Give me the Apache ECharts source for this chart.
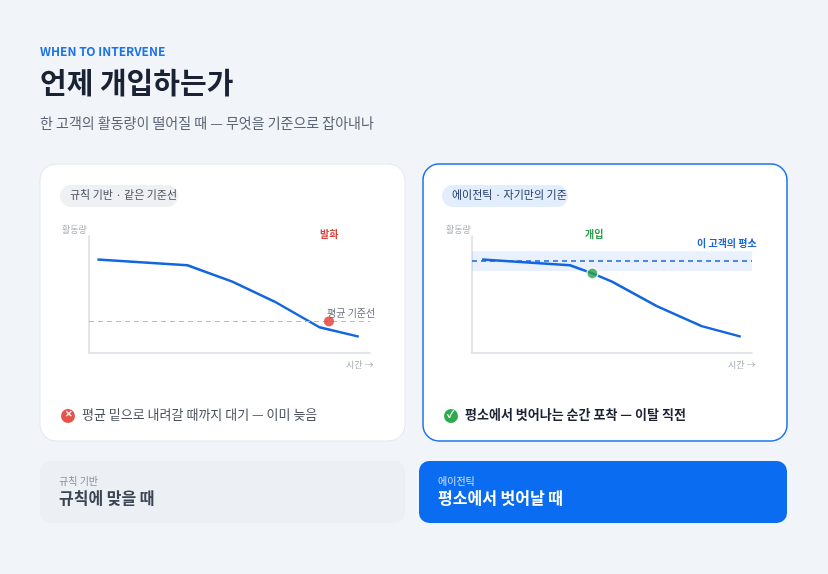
<!DOCTYPE html>
<html><head><meta charset="utf-8">
<script src="https://cdn.jsdelivr.net/npm/echarts@6/dist/echarts.min.js"></script>
<style>html,body{margin:0;padding:0;background:#f1f4f9}#c{width:828px;height:574px}</style>
</head><body><div id="c"></div>
<script>
const ruleX = [3, 35, 51, 66, 82, 96];
const ruleY = [80, 75, 61, 44, 22, 14];
const agentX = [3.6, 35, 43, 50, 66, 82, 96];
const agentY = [80, 75, 68, 61, 40, 23, 14];
const ruleBaseline = 27;
const ruleAlertX = 85.4;
const agentMean = 79;
const agentBand = [70, 87];
const agentInterveneX = 43;

const F = '"Noto Sans CJK KR","Noto Sans",sans-serif';
const chart = echarts.init(document.getElementById('c'), null, {renderer:'canvas'});
const pair = (xs, ys) => xs.map((x,i)=>[x,ys[i]]);
function axes(idx){
  return {
    x:{type:'value',gridIndex:idx,min:0,max:100,show:true,axisLine:{show:true,lineStyle:{color:'#d9dde3',width:1.5}},axisTick:{show:false},axisLabel:{show:false},splitLine:{show:false}},
    y:{type:'value',gridIndex:idx,min:0,max:100,axisLine:{show:true,lineStyle:{color:'#d9dde3',width:1.5}},axisTick:{show:false},axisLabel:{show:false},splitLine:{show:false}}
  };
}
const a0=axes(0), a1=axes(1);
const T=(x,y,text,font,fill,extra)=>Object.assign({type:'text',left:x,top:y,style:{text,font:font+' '+F,fill}},extra||{});
chart.setOption({
  animation:false,
  backgroundColor:'#f1f4f9',
  grid:[{left:89,top:236,width:281,height:117},{left:472,top:236,width:280,height:117}],
  xAxis:[a0.x,a1.x], yAxis:[a0.y,a1.y],
  graphic:[
    {type:'rect',shape:{x:40,y:164,width:365,height:277,r:16},style:{fill:'#fff',stroke:'#e3e7ed',lineWidth:1},z:-10},
    {type:'rect',shape:{x:423,y:164,width:364,height:277,r:16},style:{fill:'#fff',stroke:'#1a73e8',lineWidth:1.5},z:-10},
    {type:'rect',shape:{x:40,y:461,width:365,height:62,r:10},style:{fill:'#eceff4'},z:-10},
    {type:'rect',shape:{x:419,y:461,width:368,height:62,r:10},style:{fill:'#0a6cf0'},z:-10},
    {type:'rect',shape:{x:60,y:185,width:118,height:22,r:11},style:{fill:'#eef0f3'},z:-5},
    {type:'rect',shape:{x:442,y:185,width:126,height:22,r:11},style:{fill:'#e3eefc'},z:-5},
    T(40,45,'WHEN TO INTERVENE','bold 12px','#1a73e8',{style:{text:'WHEN TO INTERVENE',font:'bold 12px '+F,fill:'#1a73e8'}}),
    T(40,68,'언제 개입하는가','bold 29px','#1a2233'),
    T(40,116,'한 고객의 활동량이 떨어질 때 — 무엇을 기준으로 잡아내나','14px','#5b6472'),
    T(70,189,'규칙 기반 · 같은 기준선','11px','#4a5260'),
    T(452,189,'에이전틱 · 자기만의 기준','11px','#1f3a6b'),
    T(62,225,'활동량','9px','#a3a9b2'),
    T(346,360,'시간 →','9px','#a3a9b2'),
    T(446,225,'활동량','9px','#a3a9b2'),
    T(728,360,'시간 →','9px','#a3a9b2'),
    T(320,229,'발화','bold 10px','#d9443f'),
    T(327,308,'평균 기준선','10px','#6b7280'),
    T(585,229,'개입','bold 10px','#2a9d4a'),
    T(697,238,'이 고객의 평소','bold 10px','#1a66d9'),
    {type:'circle',shape:{cx:68,cy:416,r:7},style:{fill:'#e5534b'}},
    T(64.5,409,'✕','bold 9px','#fff'),
    T(82,408,'평균 밑으로 내려갈 때까지 대기 — 이미 늦음','13px','#4a5260'),
    {type:'circle',shape:{cx:451,cy:416,r:7},style:{fill:'#2eaa4f'}},
    T(447,409,'✓','bold 10px','#fff'),
    T(465,408,'평소에서 벗어나는 순간 포착 — 이탈 직전','bold 13px','#1a2233'),
    T(59,476,'규칙 기반','10px','#8a919b'),
    T(59,490,'규칙에 맞을 때','bold 16px','#3b4452'),
    T(438,476,'에이전틱','10px','#cfe0ff'),
    T(438,490,'평소에서 벗어날 때','bold 16px','#ffffff')
  ],
  series:[
    {type:'line',xAxisIndex:0,yAxisIndex:0,data:pair(ruleX,ruleY),symbol:'none',lineStyle:{color:'#1266e0',width:2.5},
     markLine:{silent:true,symbol:'none',label:{show:false},data:[
       {yAxis:ruleBaseline,lineStyle:{color:'#b5bac2',type:[5,4],width:1.2}},
       [{coord:[ruleAlertX,0]},{coord:[ruleAlertX,104]}]
     ],lineStyle:{color:'#e5534b',type:[3,3],width:1.2}}},
    {type:'scatter',xAxisIndex:0,yAxisIndex:0,data:[[ruleAlertX,ruleBaseline]],symbolSize:10,itemStyle:{color:'#e5392f'},z:5},
    {type:'line',xAxisIndex:1,yAxisIndex:1,data:pair(agentX,agentY),symbol:'none',lineStyle:{color:'#1266e0',width:2.5},
     markArea:{silent:true,itemStyle:{color:'rgba(26,115,232,0.10)'},data:[[{yAxis:agentBand[1],x:472},{yAxis:agentBand[0],x:752}]]},
     markLine:{silent:true,symbol:'none',label:{show:false},data:[
       {yAxis:agentMean,lineStyle:{color:'#1a66d9',type:[5,4],width:1.6}},
       [{coord:[agentInterveneX,0]},{coord:[agentInterveneX,104]}]
     ],lineStyle:{color:'#7dcc8e',type:[2,3],width:1.6}}},
    {type:'scatter',xAxisIndex:1,yAxisIndex:1,data:[[agentInterveneX,agentY[2]]],symbolSize:11,itemStyle:{color:'#2aa04a',borderColor:'#fff',borderWidth:1.5},z:5}
  ]
});
</script></body></html>
